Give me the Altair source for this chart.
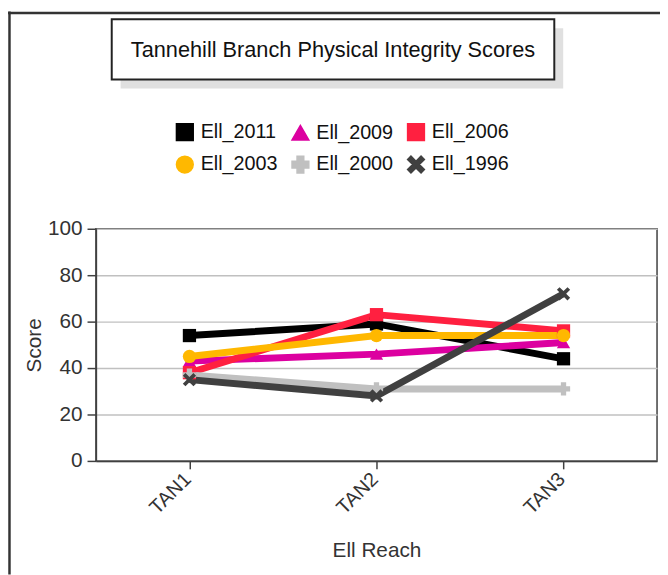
import altair as alt
import pandas as pd

reaches = ["TAN1", "TAN2", "TAN3"]
series = ["Ell_2011", "Ell_2009", "Ell_2006", "Ell_2003", "Ell_2000", "Ell_1996"]
ell_2011 = [54, 59, 44]
ell_2009 = [43, 46, 51]
ell_2006 = [38, 63, 56]
ell_2003 = [45, 54, 54]
ell_2000 = [37, 31, 31]
ell_1996 = [35, 28, 72]
colors = ["#000000", "#dc00a0", "#ff2040", "#ffb800", "#c0c0c0", "#404040"]
x_path = "M-1,-0.6L-0.6,-1L0,-0.4L0.6,-1L1,-0.6L0.4,0L1,0.6L0.6,1L0,0.4L-0.6,1L-1,0.6L-0.4,0Z"
shapes = ["square", "triangle-up", "square", "circle", "cross", x_path]
title_text = "Tannehill Branch Physical Integrity Scores"

values = [ell_2011, ell_2009, ell_2006, ell_2003, ell_2000, ell_1996]
rows = []
for i, (s, vals) in enumerate(zip(series, values)):
    for r, v in zip(reaches, vals):
        rows.append({"series": s, "marker": s, "reach": r, "score": v, "ord": i})
df = pd.DataFrame(rows)
one = pd.DataFrame({"k": [0]})

FONT = "Liberation Sans"
W, H = 568, 235

x_enc = alt.X("reach:N", scale=alt.Scale(type="point", domain=reaches, padding=0.5),
              axis=alt.Axis(title="Ell Reach", labelAngle=-45, labelFontSize=20, titleFontSize=21,
                            labelColor="#333", titleColor="#333", tickSize=8, tickColor="#404040",
                            domainColor="#404040", domainWidth=1.5, tickWidth=1.5, labelPadding=0,
                            labelOffset=-9,
                            titleFontWeight="normal", titleY=91, titleBaseline="middle", grid=False,
                            labelFont=FONT, titleFont=FONT))
y_enc = alt.Y("score:Q", scale=alt.Scale(domain=[0, 100]),
              axis=alt.Axis(title="Score", values=[0, 20, 40, 60, 80, 100], labelFontSize=21,
                            titleFontSize=21, labelColor="#333", titleColor="#333", tickSize=9,
                            tickColor="#404040", domainColor="#404040", domainWidth=1.5, tickWidth=1.5,
                            labelPadding=5, titlePadding=3, titleFontWeight="normal",
                            gridColor="#c0c0c0", gridWidth=1.5, labelFont=FONT, titleFont=FONT))
legend = alt.Legend(title=None, orient="none", legendX=80, legendY=-108,
                    direction="horizontal",
                    columns=3, columnPadding=11, rowPadding=9,
                    symbolType="square", symbolSize=289, symbolStrokeColor="#222",
                    symbolStrokeWidth=1.5, symbolOpacity=1, labelFontSize=20,
                    labelFont=FONT, labelColor="#111", labelOffset=6,
                    gridAlign="all", padding=0)
color_scale = alt.Scale(domain=series, range=colors)

lines = alt.Chart(df).mark_line(strokeWidth=7).encode(
    x=x_enc, y=y_enc,
    color=alt.Color("series:N", scale=color_scale, legend=legend),
    order="ord:Q")
points = alt.Chart(df).mark_point(filled=True, opacity=1, size=180).encode(
    x="reach:N", y="score:Q",
    color=alt.Color("series:N", scale=color_scale, legend=legend),
    shape=alt.Shape("marker:N", scale=alt.Scale(domain=series, range=shapes), legend=None))

shadow = alt.Chart(one).mark_rect(fill="#e0e0e0").encode(
    x=alt.value(25), x2=alt.value(473), y=alt.value(-203), y2=alt.value(-142))
box = alt.Chart(one).mark_rect(fill="white", stroke="#222", strokeWidth=2).encode(
    x=alt.value(16), x2=alt.value(464), y=alt.value(-212), y2=alt.value(-151))
title = alt.Chart(one).mark_text(fontSize=22, font=FONT, color="#111", align="center",
                                 baseline="middle").encode(
    x=alt.value(240), y=alt.value(-181), text=alt.value(title_text))
border_v = alt.Chart(one).mark_rule(color="#333", strokeWidth=2.5).encode(
    x=alt.value(-87.5), y=alt.value(-220), y2=alt.value(350))
border_h = alt.Chart(one).mark_rule(color="#333", strokeWidth=2.5).encode(
    x=alt.value(-89), x2=alt.value(575), y=alt.value(-218.5))

chart = alt.layer(border_v, border_h, shadow, box, title, lines, points).properties(
    width=W, height=H,
    autosize=alt.AutoSizeParams(type="none"),
    padding={"left": 89, "top": 220, "right": 3, "bottom": 112},
    background="white",
).configure_view(stroke="#404040", strokeWidth=1.5)

chart.save("out.html", embed_options={"renderer": "svg", "actions": False})
